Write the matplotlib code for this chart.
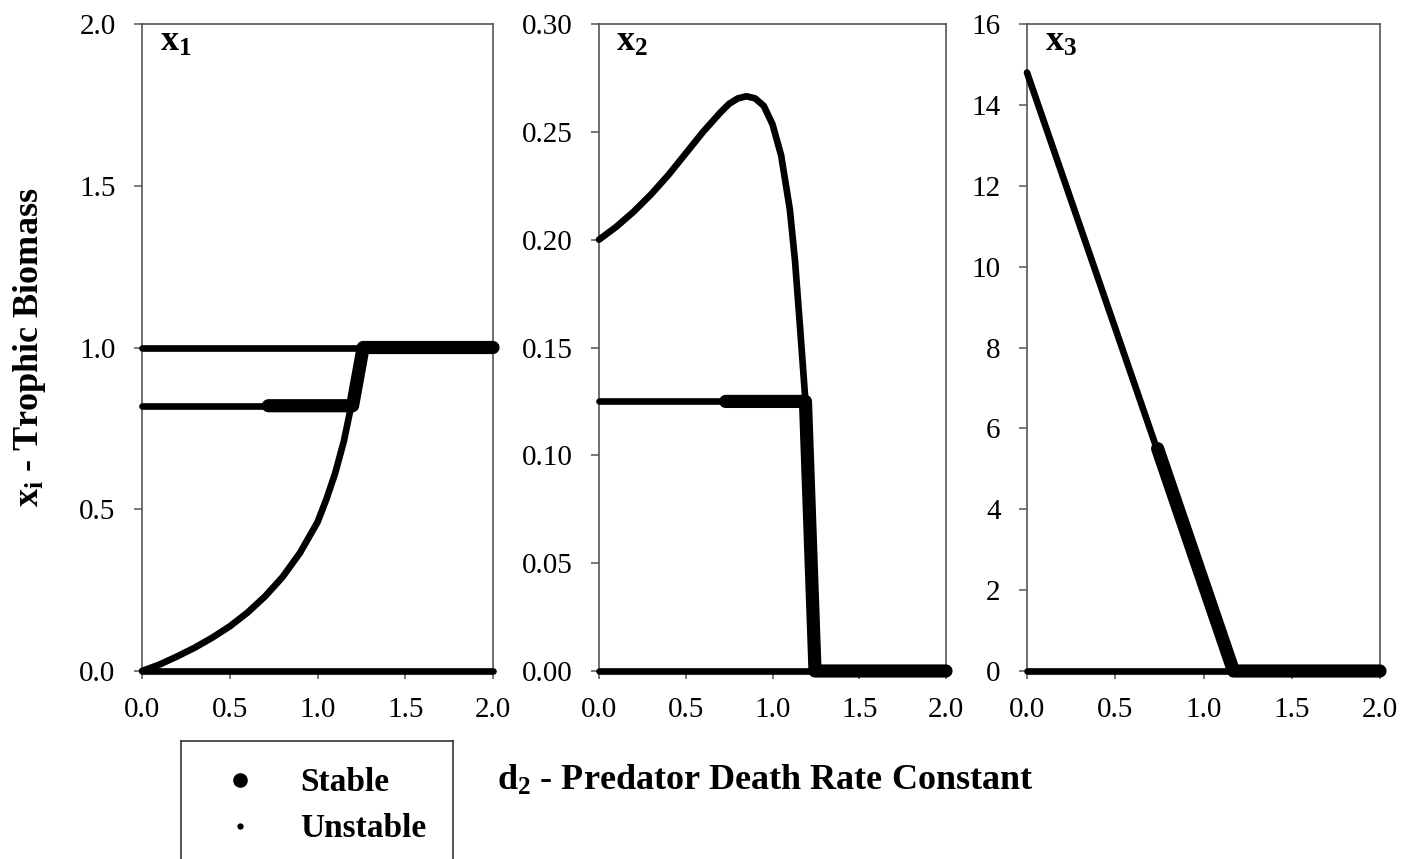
import matplotlib
matplotlib.use("Agg")
import matplotlib.pyplot as plt
import numpy as np

plt.rcParams['font.family'] = ['Liberation Serif', 'DejaVu Serif']
plt.rcParams['mathtext.fontset'] = 'custom'
plt.rcParams['mathtext.rm'] = 'Liberation Serif'
plt.rcParams['mathtext.bf'] = 'Liberation Serif:bold'
plt.rcParams['mathtext.it'] = 'Liberation Serif:italic'

# ---- data (d2 on x axis) ----
# panel x1
x1_curve_d = [0, 0.1, 0.2, 0.3, 0.4, 0.5, 0.6, 0.7, 0.8, 0.9, 1.0, 1.05, 1.1, 1.15, 1.2, 1.26]
x1_curve_v = [0, 0.02, 0.045, 0.072, 0.103, 0.138, 0.18, 0.23, 0.29, 0.365, 0.46, 0.53, 0.61, 0.71, 0.84, 1.0]
x1_upper_d = [0, 1.26]
x1_upper_v = [1.0, 1.0]
x1_mid_d = [0, 0.72]
x1_mid_v = [0.82, 0.82]
x1_zero_d = [0, 2.0]
x1_zero_v = [0, 0]
x1_stable_d = [0.72, 1.2, 1.26, 2.0]
x1_stable_v = [0.82, 0.82, 1.0, 1.0]

# panel x2
x2_curve_d = [0, 0.1, 0.2, 0.3, 0.4, 0.5, 0.6, 0.7, 0.75, 0.8, 0.85, 0.9, 0.95, 1.0,
              1.05, 1.1, 1.13, 1.16, 1.19, 1.22, 1.245]
x2_curve_v = [0.200, 0.206, 0.213, 0.221, 0.230, 0.240, 0.250, 0.259, 0.263, 0.2655, 0.2665,
              0.2655, 0.262, 0.2535, 0.239, 0.214, 0.19, 0.158, 0.125, 0.07, 0.0]
x2_mid_d = [0, 0.73]
x2_mid_v = [0.125, 0.125]
x2_zero_d = [0, 1.245]
x2_zero_v = [0, 0]
x2_stable_d = [0.73, 1.19, 1.245, 2.0]
x2_stable_v = [0.125, 0.125, 0.0, 0.0]

# panel x3
x3_line_d = [0, 1.17]
x3_line_v = [14.8, 0]
x3_zero_d = [0, 1.17]
x3_zero_v = [0, 0]
x3_stable_d = [0.74, 1.17, 2.0]
x3_stable_v = [5.5, 0, 0]

x_ticks = [0.0, 0.5, 1.0, 1.5, 2.0]
y_ticks = [[0.0, 0.5, 1.0, 1.5, 2.0],
           [0.00, 0.05, 0.10, 0.15, 0.20, 0.25, 0.30],
           [0, 2, 4, 6, 8, 10, 12, 14, 16]]
y_fmt = ['%.1f', '%.2f', '%d']
panel_names = ['1', '2', '3']

unstable = [
    [(x1_curve_d, x1_curve_v), (x1_upper_d, x1_upper_v), (x1_mid_d, x1_mid_v), (x1_zero_d, x1_zero_v)],
    [(x2_curve_d, x2_curve_v), (x2_mid_d, x2_mid_v), (x2_zero_d, x2_zero_v)],
    [(x3_line_d, x3_line_v), (x3_zero_d, x3_zero_v)],
]
stable = [(x1_stable_d, x1_stable_v), (x2_stable_d, x2_stable_v), (x3_stable_d, x3_stable_v)]

W, H = 1403, 859
fig = plt.figure(figsize=(W / 100, H / 100), dpi=100)

# axes boxes in pixels: left, right
boxes = [(142, 493), (599, 946), (1027, 1380)]
top, bottom = 24, 671
spine_col = '#555555'

for i, (l, r) in enumerate(boxes):
    ax = fig.add_axes([l / W, 1 - bottom / H, (r - l) / W, (bottom - top) / H])
    for d, v in unstable[i]:
        ax.plot(d, v, color='black', lw=4.8, solid_capstyle='round', solid_joinstyle='round',
                clip_on=False, zorder=3)
    d, v = stable[i]
    ax.plot(d, v, color='black', lw=9.5, solid_capstyle='round', solid_joinstyle='round',
            clip_on=False, zorder=4)

    ax.set_xlim(0, 2)
    ax.set_ylim(y_ticks[i][0], y_ticks[i][-1])
    ax.set_xticks(x_ticks)
    ax.set_xticklabels(['%.1f' % t for t in x_ticks])
    ax.set_yticks(y_ticks[i])
    ax.set_yticklabels([y_fmt[i] % t for t in y_ticks[i]])
    ax.tick_params(direction='out', length=6, width=1.1, color=spine_col, labelsize=21)
    ax.tick_params(axis='x', pad=13)
    ax.tick_params(axis='y', pad=13)
    for s in ax.spines.values():
        s.set_color(spine_col)
        s.set_linewidth(1.2)
    ax.text(0.05, 0.959, r'$\mathbf{x}_\mathbf{%s}$' % panel_names[i], transform=ax.transAxes,
            fontsize=26, va='baseline', ha='left')

fig.text(30 / W, 1 - 347 / H, r'$\mathbf{x}_\mathbf{i}$ - Trophic Biomass', rotation=90,
         fontsize=26, fontweight='bold', ha='center', va='center')
fig.text(765 / W, 1 - 790 / H, r'$\mathbf{d}_\mathbf{2}$ - Predator Death Rate Constant',
         fontsize=26, fontweight='bold', ha='center', va='baseline')

# legend box
lax = fig.add_axes([181 / W, -17 / H, 272 / W, (H - 741 + 17) / H])
lax.set_xlim(181, 453)
lax.set_ylim(H + 17, 741)
lax.set_xticks([])
lax.set_yticks([])
for s in lax.spines.values():
    s.set_color('#333333')
    s.set_linewidth(1.2)
lax.plot([240], [780], 'o', color='black', markersize=9.5)
lax.plot([240], [826], 'o', color='black', markersize=3.5)
lax.text(300, 791, 'Stable', fontsize=24, fontweight='bold', va='baseline')
lax.text(300, 837, 'Unstable', fontsize=24, fontweight='bold', va='baseline')

fig.savefig('out.png', dpi=100)
